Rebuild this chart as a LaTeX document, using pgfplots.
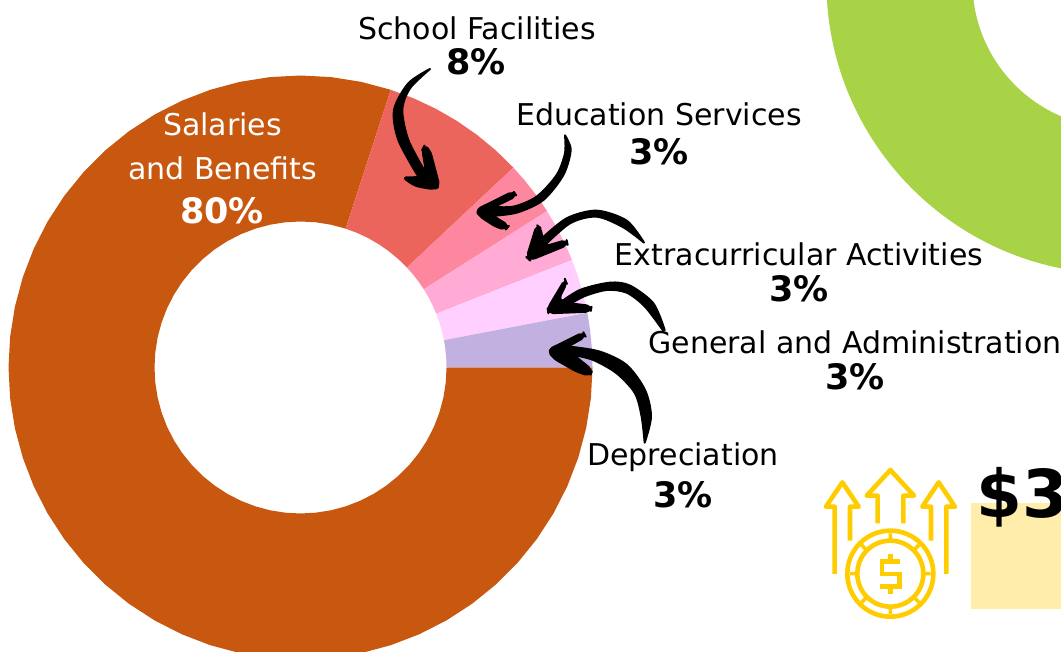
\documentclass[border=0pt]{standalone}
\usepackage{pgfplots}
\pgfplotsset{compat=1.18}
\usepackage{fontspec}
\setmainfont{DejaVu Sans}
\definecolor{cSal}{HTML}{C85810}
\definecolor{cSch}{HTML}{EC655D}
\definecolor{cEdu}{HTML}{FE87A0}
\definecolor{cExt}{HTML}{FFABD6}
\definecolor{cGen}{HTML}{FFD0FF}
\definecolor{cDep}{HTML}{C2B0E0}
\definecolor{cGrn}{HTML}{A9D347}
\definecolor{cYel}{HTML}{FFCC00}
\definecolor{cBox}{HTML}{FFEDAC}
\newcommand{\lab}[4][black]{\node[anchor=base,text=#1,inner sep=0pt] at (#2,#3) {\fontsize{30pt}{31pt}\selectfont #4};}
\newcommand{\labb}[4][black]{\node[anchor=base,text=#1,inner sep=0pt] at (#2,#3) {\fontsize{35pt}{36pt}\selectfont\bfseries #4};}
\begin{document}
\begin{tikzpicture}
\clip (0,0) rectangle (1061pt,652pt);
\path[use as bounding box] (0,0) rectangle (1061pt,652pt);
% decorations behind the chart
\begin{scope}[x=1pt,y=-1pt,shift={(0,652pt)}]
\fill[cGrn,even odd rule] (1118.4,-18) circle [radius=292pt] (1118.4,-18) circle [radius=146pt];
\fill[cBox] (971,503) rectangle (1061,609);
\end{scope}
\begin{axis}[at={(0,0)},anchor=south west,scale only axis,width=1061pt,height=652pt,
  xmin=-300.5,xmax=760.5,ymin=-284.5,ymax=367.5,hide axis,clip=true]
% Salaries and Benefits 80%
\addplot[fill=cSal,draw=none,data cs=polar] coordinates {
(72,292)(78,292)(84,292)(90,292)(96,292)(102,292)(108,292)(114,292)(120,292)(126,292)(132,292)(138,292)(144,292)(150,292)(156,292)(162,292)(168,292)(174,292)(180,292)(186,292)(192,292)(198,292)(204,292)(210,292)(216,292)(222,292)(228,292)(234,292)(240,292)(246,292)(252,292)(258,292)(264,292)(270,292)(276,292)(282,292)(288,292)(294,292)(300,292)(306,292)(312,292)(318,292)(324,292)(330,292)(336,292)(342,292)(348,292)(354,292)(360,292)
(360,146)(354,146)(348,146)(342,146)(336,146)(330,146)(324,146)(318,146)(312,146)(306,146)(300,146)(294,146)(288,146)(282,146)(276,146)(270,146)(264,146)(258,146)(252,146)(246,146)(240,146)(234,146)(228,146)(222,146)(216,146)(210,146)(204,146)(198,146)(192,146)(186,146)(180,146)(174,146)(168,146)(162,146)(156,146)(150,146)(144,146)(138,146)(132,146)(126,146)(120,146)(114,146)(108,146)(102,146)(96,146)(90,146)(84,146)(78,146)(72,146)
} --cycle;
% School Facilities 8%
\addplot[fill=cSch,draw=none,data cs=polar] coordinates {
(43.2,292)(48,292)(52.8,292)(57.6,292)(62.4,292)(67.2,292)(72,292)
(72,146)(67.2,146)(62.4,146)(57.6,146)(52.8,146)(48,146)(43.2,146)
} --cycle;
% Education Services 3%
\addplot[fill=cEdu,draw=none,data cs=polar] coordinates {
(32.4,292)(36,292)(39.6,292)(43.2,292)(43.2,146)(39.6,146)(36,146)(32.4,146)
} --cycle;
% Extracurricular Activities 3%
\addplot[fill=cExt,draw=none,data cs=polar] coordinates {
(21.6,292)(25.2,292)(28.8,292)(32.4,292)(32.4,146)(28.8,146)(25.2,146)(21.6,146)
} --cycle;
% General and Administration 3%
\addplot[fill=cGen,draw=none,data cs=polar] coordinates {
(10.8,292)(14.4,292)(18,292)(21.6,292)(21.6,146)(18,146)(14.4,146)(10.8,146)
} --cycle;
% Depreciation 3%
\addplot[fill=cDep,draw=none,data cs=polar] coordinates {
(0,292)(3.6,292)(7.2,292)(10.8,292)(10.8,146)(7.2,146)(3.6,146)(0,146)
} --cycle;
\end{axis}
% icon
\begin{scope}[x=1pt/3,y=-1pt/3,shift={(810pt,652pt-450pt)},draw=cYel,line width=4.6pt,line join=round,line cap=round]
\draw[line cap=butt] (74,372)--(74,170)--(48,170)--(97,97)--(146,170)--(120,170)--(120,272);
\draw[line cap=butt] (203,220)--(203,137)--(170,137)--(241,60)--(312,137)--(280,137)--(280,220);
\draw[line cap=butt] (363,272)--(363,170)--(337,170)--(386,97)--(435,170)--(409,170)--(409,372);
\draw (241,371) circle [radius=43pt];
\draw (241,371) circle [radius=33pt];
\draw[line cap=butt,line width=3.6pt] (241,250)--(241,268) (241,474)--(241,492) (120,371)--(138,371) (344,371)--(362,371)
 (155,285)--(168,298) (327,285)--(314,298) (155,457)--(168,444) (327,457)--(314,444);
\draw[line cap=butt,line join=miter] (271,335)--(216,335)--(216,372)--(268,372)--(268,410)--(211,410);
\draw[line cap=butt] (241,312)--(241,335) (241,410)--(241,432);
\end{scope}
% hand-drawn arrows, first view
\begin{scope}[x=1pt/3,y=-1pt/3,shift={(340pt,652pt-60pt)},line width=2pt,line join=round]
\filldraw plot[smooth] coordinates {(270,27)(205,70)(162,150)(175,240)(232,345)} -- plot[smooth] coordinates {(255,335)(205,240)(187,150)(210,85)(270,27)} -- cycle;
\filldraw[rounded corners=5pt] (253,258)--(270,270)--(299,380)--(280,388)--(225,378)--(187,352)--(235,352)--(258,335)--(247,270)--cycle;
\filldraw plot[smooth] coordinates {(675,226)(692,270)(670,345)(610,420)(530,458)(450,468)} -- plot[smooth] coordinates {(450,440)(520,440)(590,410)(650,345)(675,280)(675,226)} -- cycle;
\filldraw[rounded corners=5pt] (407,450)--(520,394)--(530,408)--(450,447)--(460,468)--(507,497)--(497,509)--(470,502)--(420,470)--cycle;
\filldraw plot[smooth] coordinates {(912,548)(860,482)(770,452)(680,475)(600,540)} -- plot[smooth] coordinates {(610,560)(690,490)(770,470)(850,502)(912,548)} -- cycle;
\filldraw[rounded corners=5pt] (590,495)--(560,592)--(570,601)--(683,555)--(680,540)--(610,560)--(603,505)--cycle;
\end{scope}
\begin{scope}[x=1pt/3,y=-1pt/3,shift={(520pt,652pt-270pt)},line width=2pt,line join=round]
\filldraw plot[smooth] coordinates {(434,180)(400,100)(330,47)(270,38)(180,60)(110,105)} -- plot[smooth] coordinates {(130,115)(190,80)(260,60)(320,68)(375,110)(428,180)} -- cycle;
\filldraw[rounded corners=5pt] (135,28)--(83,115)--(85,130)--(212,125)--(215,108)--(150,100)--(115,90)--(140,40)--cycle;
\filldraw plot[smooth] coordinates {(374,518)(393,440)(375,360)(320,285)(240,245)(150,230)} -- plot[smooth] coordinates {(160,255)(220,270)(290,310)(345,370)(365,440)(374,518)} -- cycle;
\filldraw[rounded corners=5pt] (83,240)--(190,187)--(197,200)--(140,232)--(165,258)--(217,300)--(210,318)--(170,305)--(100,265)--cycle;
\end{scope}
% labels
\begin{scope}[x=1pt,y=-1pt,shift={(0,652pt)}]
\lab{477}{40}{School Facilities}
\labb{476}{75}{8\%}
\lab[white]{222.5}{136}{Salaries}
\lab[white]{222.5}{180}{and Benefits}
\labb[white]{222}{224}{80\%}
\lab{659}{126}{Education Services}
\labb{659}{164.5}{3\%}
\lab{799}{266}{Extracurricular Activities}
\labb{799}{301.5}{3\%}
\lab{855}{354}{General and Administration}
\labb{855}{389.5}{3\%}
\lab{683}{466}{Depreciation}
\labb{683}{507.5}{3\%}
\node[anchor=base west,inner sep=0pt] at (976,518) {\fontsize{66pt}{66pt}\selectfont\bfseries \$3};
\end{scope}
\end{tikzpicture}
\end{document}
